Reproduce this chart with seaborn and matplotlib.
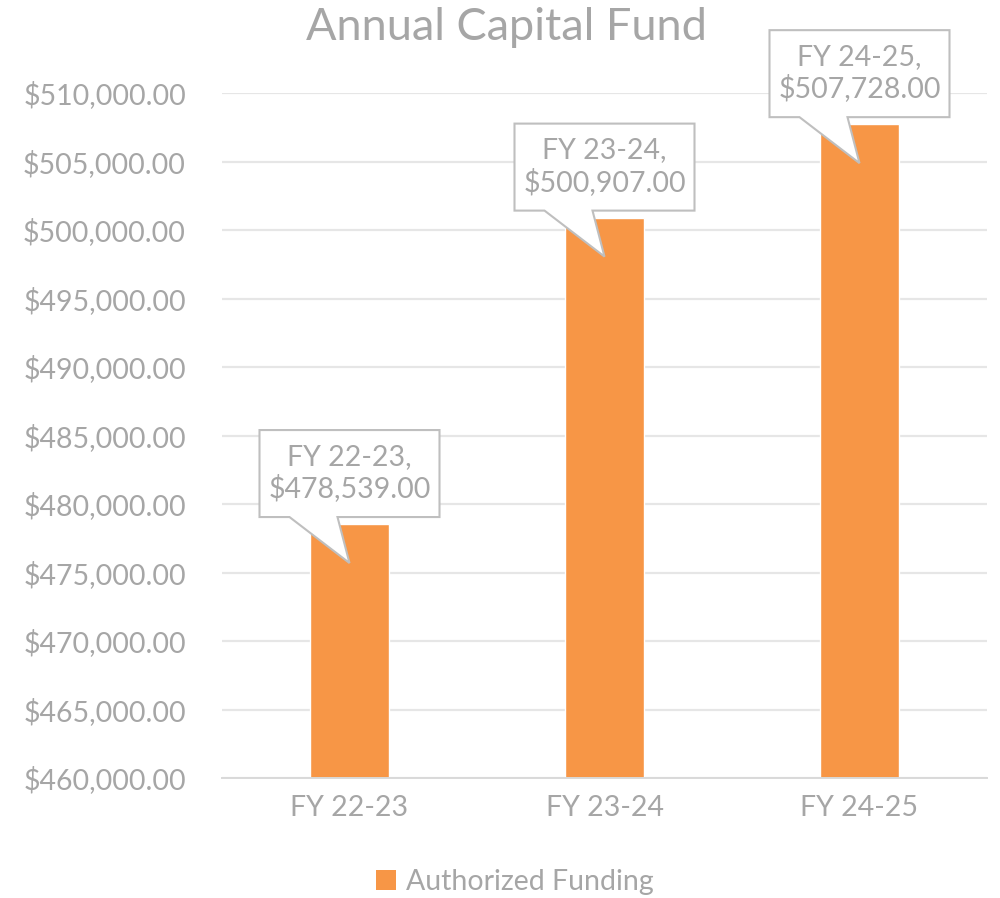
import matplotlib
matplotlib.use("Agg")
import matplotlib.pyplot as plt
import matplotlib.transforms as mtransforms
from matplotlib.patches import Polygon, Patch
import pandas as pd
import seaborn as sns

# data
years = ["FY 22-23", "FY 23-24", "FY 24-25"]
funding = [478539.00, 500907.00, 507728.00]
series_name = "Authorized Funding"

bar_color = "#F79646"
text_gray = "#A6A6A6"
grid_gray = "#E6E6E6"

sns.set_theme(style="white")
plt.rcParams["font.family"] = ["Lato", "DejaVu Sans"]

df = pd.DataFrame({"year": years, "funding": funding})

fig = plt.figure(figsize=(10, 8.98), dpi=100)
ax = fig.add_axes([0.222, 0.1336, 0.765, 0.7628])

sns.barplot(data=df, x="year", y="funding", color=bar_color, width=0.31,
            saturation=1, ax=ax, zorder=2)

ax.set_ylim(460000, 510000)
ax.set_xlim(-0.5, 2.5)
ax.set_yticks(range(460000, 510001, 5000))
ax.set_yticklabels(["${:,.2f}".format(v) for v in range(460000, 510001, 5000)])
ax.yaxis.grid(True, color=grid_gray, linewidth=1.6, zorder=0)
ax.set_axisbelow(True)
for s in ["top", "right", "left"]:
    ax.spines[s].set_visible(False)
ax.spines["bottom"].set_color("#D9D9D9")
ax.spines["bottom"].set_linewidth(1.4)
ax.tick_params(axis="y", length=0, pad=26, labelsize=20.5, labelcolor=text_gray)
ax.tick_params(axis="x", length=0, pad=12, labelsize=20.5, labelcolor=text_gray)
ax.set_xlabel("")
ax.set_ylabel("")

fig.text(0.506, 1 - 40 / 898, "Annual Capital Fund", fontsize=32.5,
         color=text_gray, ha="center", va="baseline")

# callout labels (pixel offsets around each bar top)
for i, (yr, val) in enumerate(zip(years, funding)):
    tr = (mtransforms.Affine2D().scale(0.01) + fig.dpi_scale_trans
          + mtransforms.ScaledTranslation(i, val, ax.transData))
    verts = [(-90, 94), (90, 94), (90, 7), (-12, 7), (0, -39), (-60, 7), (-90, 7)]
    poly = Polygon(verts, closed=True, facecolor="white", edgecolor="#BFBFBF",
                   linewidth=1.5, transform=tr, zorder=5, clip_on=False)
    ax.add_patch(poly)
    ax.text(0, 51, "{},\n${:,.2f}".format(yr, val), transform=tr,
            ha="center", va="center", fontsize=20.5, color=text_gray,
            linespacing=1.2, zorder=6, clip_on=False)

handle = Patch(facecolor=bar_color, edgecolor="none")
fig.legend([handle], [series_name], loc="center", bbox_to_anchor=(0.515, 0.018),
           frameon=False, fontsize=20.5, labelcolor=text_gray,
           handlelength=0.7, handleheight=0.7, handletextpad=0.35)

fig.savefig("out.png", dpi=100)
